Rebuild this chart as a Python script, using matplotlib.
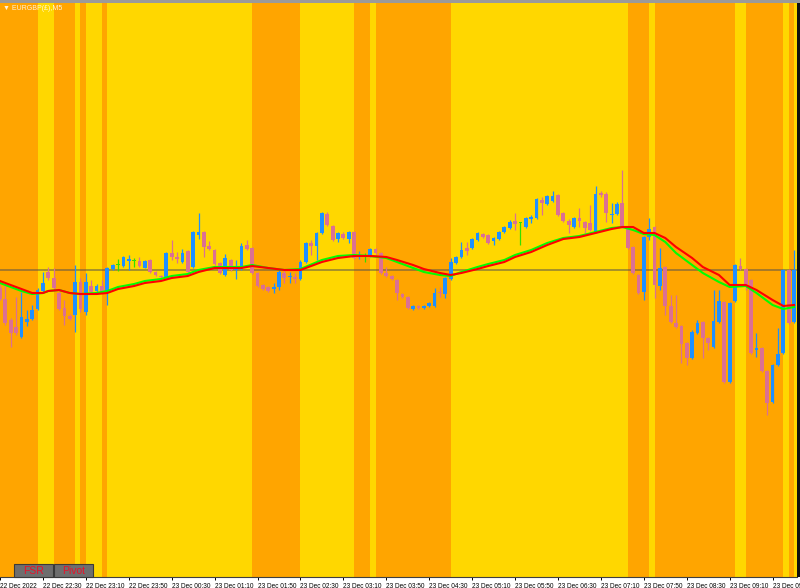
import numpy as np
import matplotlib
matplotlib.use("Agg")
import matplotlib.pyplot as plt
from matplotlib.patches import Rectangle
from matplotlib.transforms import ScaledTranslation

# ------------------------------------
# Data: EURGBP M5, prices in points above BASE
# ------------------------------------
BASE = 0.87800
POINT = 0.00001

open_pts = [182, 171, 150, 143, 133, 148, 151, 161, 179, 198, 192, 177, 162, 154, 155, 188, 158, 184, 179, 184,
            178, 201, 205, 204, 209, 209, 209, 202, 210, 198, 194, 193, 217, 213, 208, 219, 203, 235, 238, 224,
            220, 207, 195, 210, 200, 201, 225, 222, 197, 185, 183, 181, 183, 197, 193, 193, 191, 208, 227, 224,
            237, 256, 244, 231, 236, 231, 238, 213, 213, 214, 221, 217, 197, 194, 190, 176, 173, 161, 164, 162,
            164, 164, 178, 176, 191, 207, 213, 222, 222, 230, 236, 235, 229, 231, 238, 242, 249, 247, 243, 251,
            252, 270, 266, 269, 275, 257, 249, 243, 252, 248, 247, 238, 277, 276, 255, 256, 267, 242, 223, 195,
            178, 233, 243, 184, 203, 164, 147, 144, 127, 112, 137, 148, 132, 123, 148, 168, 88, 169, 204, 201,
            190, 120, 122, 99, 68, 105, 117, 200, 148]
high_pts = [185, 185, 152, 173, 178, 160, 165, 182, 198, 203, 202, 178, 170, 156, 205, 192, 197, 190, 186, 190,
            203, 206, 211, 214, 215, 212, 213, 210, 211, 199, 195, 218, 230, 218, 221, 220, 239, 257, 239, 229,
            221, 208, 216, 211, 210, 227, 230, 223, 198, 186, 184, 187, 200, 200, 198, 197, 210, 228, 230, 238,
            258, 258, 245, 238, 238, 239, 239, 219, 217, 222, 222, 218, 203, 195, 191, 177, 174, 165, 165, 165,
            168, 182, 183, 193, 212, 214, 228, 228, 232, 238, 237, 236, 233, 239, 244, 250, 257, 248, 253, 255,
            272, 273, 275, 279, 276, 258, 251, 253, 262, 249, 265, 284, 279, 278, 267, 268, 300, 243, 224, 196,
            234, 252, 244, 222, 204, 175, 175, 145, 128, 140, 150, 149, 133, 180, 180, 169, 168, 206, 212, 202,
            191, 137, 123, 100, 106, 142, 201, 201, 220]
low_pts = [170, 145, 123, 135, 132, 144, 150, 160, 178, 190, 181, 160, 145, 150, 138, 158, 155, 177, 178, 177,
           165, 200, 199, 203, 200, 203, 203, 202, 197, 194, 192, 192, 210, 207, 207, 197, 202, 231, 213, 220,
           205, 196, 194, 199, 191, 200, 220, 196, 183, 180, 178, 177, 180, 187, 187, 187, 190, 207, 215, 210,
           236, 244, 229, 228, 231, 227, 211, 211, 208, 213, 216, 196, 193, 190, 170, 172, 161, 160, 161, 161,
           163, 163, 173, 172, 190, 206, 212, 215, 221, 229, 232, 226, 225, 230, 237, 241, 240, 225, 242, 247,
           251, 255, 265, 268, 254, 248, 237, 242, 243, 237, 239, 237, 273, 248, 247, 255, 242, 221, 196, 176,
           170, 230, 172, 180, 155, 147, 142, 107, 105, 111, 136, 112, 120, 122, 147, 87, 87, 168, 200, 180,
           116, 113, 98, 55, 67, 104, 116, 146, 147]
close_pts = [171, 147, 137, 137, 153, 151, 160, 180, 187, 192, 182, 161, 154, 151, 188, 161, 188, 178, 184, 178,
             202, 205, 205, 213, 211, 209, 204, 209, 198, 195, 193, 217, 213, 211, 217, 198, 238, 238, 223, 221,
             206, 197, 212, 200, 202, 224, 221, 197, 184, 181, 179, 183, 198, 192, 194, 191, 208, 227, 224, 237,
             257, 245, 230, 237, 232, 238, 212, 214, 213, 221, 217, 197, 194, 191, 177, 173, 162, 164, 162, 164,
             167, 177, 177, 192, 208, 213, 220, 219, 231, 237, 233, 227, 232, 238, 243, 248, 246, 247, 252, 253,
             271, 267, 274, 274, 255, 249, 245, 252, 249, 242, 240, 276, 275, 257, 256, 266, 243, 222, 197, 177,
             233, 241, 185, 202, 164, 148, 143, 126, 112, 138, 147, 132, 127, 149, 169, 88, 167, 205, 201, 184,
             117, 122, 99, 67, 105, 116, 200, 147, 200]

# moving averages (at these bars)
ma_idx = [0, 2, 4, 6, 8, 9, 11, 13, 15, 18, 20, 22, 25, 27, 30, 32, 35, 37, 40, 42, 45, 47, 50, 53, 56, 60,
          63, 66, 69, 72, 74, 77, 79, 82, 84, 86, 89, 91, 94, 96, 99, 102, 105, 108, 111, 114, 116, 118, 120,
          122, 124, 126, 129, 131, 134, 136, 139, 141, 144, 146, 148]
red_ma_pts = [189, 185, 181, 177, 177, 179, 180, 177, 176, 176, 177, 181, 184, 187, 189, 192, 194, 198, 202, 202,
              202, 204, 202, 200, 200, 208, 212, 214, 214, 213, 210, 205, 201, 197, 195, 197, 201, 204, 208, 213,
              218, 225, 231, 233, 237, 241, 243, 243, 237, 237, 232, 223, 212, 203, 195, 185, 185, 180, 170, 164,
              165]
green_ma_pts = [187, 183, 179, 176, 177, 179, 180, 177, 176, 177, 179, 183, 186, 189, 191, 194, 196, 200, 203, 203,
                203, 205, 202, 200, 201, 210, 214, 215, 214, 212, 208, 202, 198, 195, 194, 198, 203, 206, 210, 215,
                220, 227, 232, 234, 238, 242, 243, 240, 236, 235, 228, 217, 205, 197, 188, 183, 184, 177, 165, 161,
                163]
level_pts = 200

# background sessions (bar index ranges)
band_start = [-1, 7, 10, 14, 15, 16, 19, 20, 47, 56, 66, 69, 70, 84, 117, 121, 122, 137, 139, 146, 147, 148]
band_end = [7, 10, 14, 15, 16, 19, 20, 47, 56, 66, 69, 70, 84, 117, 121, 122, 137, 139, 146, 147, 148, 150]
band_color = ["#FFA500", "#FFD700"] * 11

tick_idx = list(range(0, 145, 8))
tick_labels = ["22 Dec 2022", "22 Dec 22:30", "22 Dec 23:10", "22 Dec 23:50", "23 Dec 00:30",
               "23 Dec 01:10", "23 Dec 01:50", "23 Dec 02:30", "23 Dec 03:10", "23 Dec 03:50",
               "23 Dec 04:30", "23 Dec 05:10", "23 Dec 05:50", "23 Dec 06:30", "23 Dec 07:10",
               "23 Dec 07:50", "23 Dec 08:30", "23 Dec 09:10", "23 Dec 09:50"]

# ------------------------------------
# Figure
# ------------------------------------
W, H = 800, 588
fig = plt.figure(figsize=(W / 100, H / 100), dpi=100, facecolor="white")
ax = fig.add_axes([0, 11 / H, 797 / W, 574 / H])

o = BASE + np.array(open_pts) * POINT
h = BASE + np.array(high_pts) * POINT
l = BASE + np.array(low_pts) * POINT
c = BASE + np.array(close_pts) * POINT
x = np.arange(len(o))

for s, e, col in zip(band_start, band_end, band_color):
    ax.axvspan(s, e, color=col, lw=0, zorder=0)

ax.axhline(BASE + level_pts * POINT, color="#505050", alpha=0.55, lw=1.3, zorder=2)

for mask, col in ((c > o, "#1E90FF"), (c < o, "#DB7093"), (c == o, "#32E000")):
    ax.vlines(x[mask], l[mask], h[mask], color=col, lw=0.9, zorder=3)
    lo = np.minimum(o, c)[mask]
    hh = np.maximum(np.abs(c - o)[mask], POINT)
    ax.bar(x[mask], hh, bottom=lo, width=0.7, color=col, lw=0, zorder=4)

ma_x = np.array(ma_idx)
ax.plot(ma_x, BASE + np.array(green_ma_pts) * POINT, color="#00FF00", lw=1.5, zorder=5)
ax.plot(ma_x, BASE + np.array(red_ma_pts) * POINT, color="#FF0000", lw=1.5, zorder=6)

ax.set_xlim(0.13, 148.55)
ax.set_ylim(BASE - 107 * POINT, BASE + 467 * POINT)
for sp in ax.spines.values():
    sp.set_visible(False)
ax.spines["bottom"].set_visible(True)
ax.spines["bottom"].set_color("#404040")
ax.spines["bottom"].set_linewidth(0.8)
ax.set_yticks([])
ax.set_xticks(tick_idx)
ax.set_xticklabels(tick_labels, fontsize=4.7, family="Liberation Sans", ha="left")
shift = ScaledTranslation(2 / 100, 0, fig.dpi_scale_trans)
for lab in ax.get_xticklabels():
    lab.set_transform(lab.get_transform() + shift)
ax.tick_params(axis="x", direction="out", length=2.5, width=0.7, pad=1.5, colors="black")

# window frame bits
fig.add_artist(Rectangle((0, 1 - 3 / H), 1, 3 / H, transform=fig.transFigure, color="#9a9a9a", lw=0))
fig.add_artist(Rectangle((797 / W, 11 / H), 3 / W, 574 / H, transform=fig.transFigure, color="#101010", lw=0))

fig.text(3 / W, 1 - 8.5 / H, "\u25bc EURGBP(\u00a3),M5", color="white", alpha=0.85, fontsize=5,
         va="center", ha="left", family="Liberation Sans")

# buttons
for bx, label in ((14, "FSR"), (54, "Pivot")):
    fig.add_artist(Rectangle((bx / W, 11 / H), 39 / W, 13 / H, transform=fig.transFigure,
                             facecolor="#6e6e6e", edgecolor="#3a3a3a", lw=0.8))
    fig.text((bx + 19.5) / W, 17.5 / H, label, color="#E8102A", fontsize=7.5, ha="center", va="center",
             family="Liberation Sans")

fig.savefig("out.png", dpi=100, facecolor=fig.get_facecolor())
